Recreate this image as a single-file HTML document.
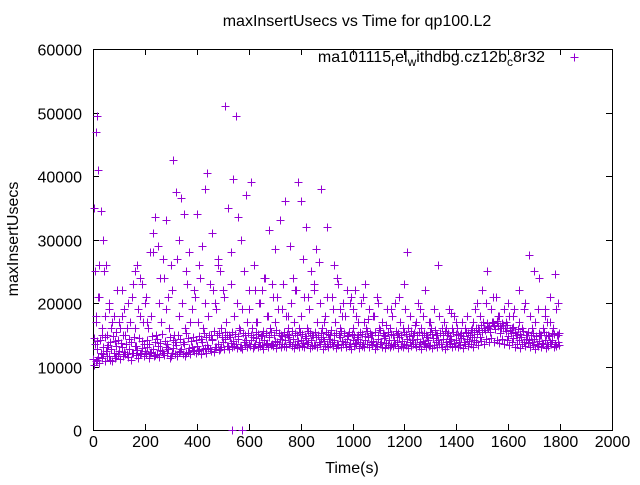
<!DOCTYPE html>
<html><head><meta charset="utf-8"><style>
html,body{margin:0;padding:0;background:#fff;}
svg text{font-family:"Liberation Sans",sans-serif;font-size:16px;fill:#000;}
</style></head><body>
<svg id="chart" width="640" height="480" xmlns="http://www.w3.org/2000/svg">
<text x="357" y="26" text-anchor="middle" font-size="15.5">maxInsertUsecs vs Time for qp100.L2</text>
<text x="352" y="473" text-anchor="middle">Time(s)</text>
<text transform="translate(18,239) rotate(-90)" text-anchor="middle">maxInsertUsecs</text>
<g id="axes"></g>
<g id="points"></g>
<g>
<text x="545" y="62" text-anchor="end" font-size="16">ma101115<tspan dy="4" font-size="12">r</tspan><tspan dy="-4">el</tspan><tspan dy="4" font-size="12">w</tspan><tspan dy="-4">ithdbg.cz12b</tspan><tspan dy="4" font-size="12">c</tspan><tspan dy="-4">8r32</tspan></text>
<path d="M570.5,57.5H578.5M574.5,53.5V61.5" stroke="#9400d3" stroke-width="1" shape-rendering="crispEdges"/>
</g>
</svg>
<script>
const xTicks=[0,200,400,600,800,1000,1200,1400,1600,1800,2000];
const yTicks=[0,10000,20000,30000,40000,50000,60000];
const bandA=[11.2,10.8,11.5,12.1,11.9,12.4,11.7,12.8,12.2,11.6,12.5,13.0,12.3,11.9,12.7,12.1,13.2,12.6,12.0,12.9,
12.4,13.1,12.2,12.8,11.8,13.3,12.6,12.1,13.0,12.7,11.6,12.9,13.4,12.3,12.8,13.6,12.2,12.9,13.1,12.5,
13.2,12.6,13.8,12.9,13.4,12.7,14.1,13.0,13.6,12.8,13.9,14.3,13.2,13.7,14.0,13.5,14.4,13.1,13.8,14.2,
13.6,14.1,13.3,14.5,13.9,13.4,14.2,13.7,14.6,13.5,14.0,13.8,14.3,13.6,14.1,14.7,13.9,14.4,13.5,14.0,
14.2,13.7,14.5,13.9,14.1,13.4,14.6,13.8,14.3,14.0,13.6,14.4,13.9,14.2,13.5,14.7,14.0,13.8,14.3,13.6,
14.1,13.7,14.4,13.9,13.5,14.2,14.6,13.8,14.0,13.6,14.3,13.9,14.5,13.7,14.1,13.4,14.2,13.8,14.6,14.0,
13.6,14.3,13.9,14.1,13.5,14.4,13.8,14.0,13.7,14.2,13.4,14.5,13.9,14.1,13.6,14.3,13.8,14.0,14.4,13.7,
14.1,13.8,14.5,13.9,14.3,14.0,14.7,14.2,15.1,14.6,15.4,15.8,16.2,15.5,16.8,15.9,16.4,15.2,16.0,15.6,
14.8,15.3,14.5,15.0,14.2,14.7,13.9,14.4,14.1,13.8,14.3,13.6,14.0,13.7,14.2,13.5,13.9,14.1,13.6,13.8];
const bandB=[10.2,11.0,10.5,11.3,10.9,11.6,11.1,10.8,11.4,11.9,11.2,11.7,12.0,11.5,11.1,12.2,11.8,11.4,12.1,11.6,
11.9,11.3,12.3,11.7,12.0,11.5,12.4,11.8,12.1,11.4,12.2,11.9,11.6,12.5,12.0,11.7,12.3,11.9,12.6,12.1,
12.4,12.0,12.7,12.2,12.9,12.5,12.3,13.1,12.6,13.0,12.8,13.2,12.7,13.0,13.3,12.9,13.1,12.8,13.4,13.0,
13.2,12.9,13.5,13.1,13.3,12.8,13.6,13.0,13.4,13.2,12.9,13.5,13.1,13.3,13.0,13.6,13.2,12.9,13.4,13.1,
13.3,13.0,13.5,12.9,13.2,13.4,13.1,13.6,12.8,13.3,13.0,13.5,13.2,12.9,13.4,13.1,13.6,13.0,13.3,12.8,
13.2,13.5,12.9,13.3,13.1,13.6,13.0,13.4,12.8,13.2,13.5,13.1,12.9,13.4,13.0,13.3,13.6,12.9,13.2,13.1,
13.4,12.9,13.2,13.6,13.0,13.3,12.8,13.5,13.1,13.2,12.9,13.4,13.0,13.6,13.1,12.8,13.3,13.5,13.0,13.2,
13.1,13.4,12.9,13.5,13.2,13.6,13.0,13.8,13.4,14.0,13.6,14.3,13.9,14.5,13.8,14.2,13.7,14.4,13.5,14.1,
13.4,13.8,13.1,13.6,12.9,13.5,13.2,13.7,13.0,13.4,12.8,13.3,13.1,13.6,12.9,13.2,13.5,13.0,13.3,13.4];
const bandC=[13.5,12.8,14.2,13.1,14.6,13.4,13.9,14.8,13.2,14.1,13.7,15.0,13.5,14.3,13.8,14.7,13.3,14.5,14.0,13.6,
14.2,13.5,14.8,13.9,14.4,13.7,15.1,14.0,13.6,14.6,14.1,13.8,14.9,14.3,13.9,15.2,14.5,14.0,14.7,14.2,
14.8,14.3,15.3,14.6,15.0,14.4,15.6,14.9,15.2,14.7,15.4,15.0,14.6,15.5,15.1,14.8,15.7,15.2,14.9,15.3,
15.0,14.7,15.5,15.1,14.8,15.6,15.2,14.9,15.4,15.0,15.7,15.3,14.8,15.5,15.1,14.9,15.6,15.2,15.0,15.4,
15.1,14.8,15.6,15.2,14.9,15.5,15.0,15.3,14.7,15.4,15.1,15.7,14.9,15.3,15.0,15.6,15.2,14.8,15.5,15.1,
15.0,14.7,15.5,15.1,14.8,15.6,15.2,14.9,15.4,15.0,15.7,15.3,14.8,15.5,15.1,14.9,15.6,15.2,15.0,15.4,
15.1,14.8,15.6,15.2,14.9,15.5,15.0,15.3,14.7,15.4,15.1,15.7,14.9,15.3,15.0,15.6,15.2,14.8,15.5,15.1,
15.0,15.3,14.8,15.5,15.2,15.8,15.4,16.1,15.7,16.5,16.0,16.8,16.3,17.0,16.6,17.2,16.4,16.9,16.1,16.6,
15.8,16.2,15.4,15.9,15.1,15.6,15.0,15.4,14.9,15.3,14.8,15.2,14.9,15.5,15.0,14.8,15.3,15.1,14.9,15.2];
const midV=[14.5,18,21,16,25,15,19,17,14,22,16,18,15,20,17,23,16,19,24,17,
21,16,18,28,15,20,17,24,19,16,22,15,27,18,20,16,23,17,19,21,
17,24,16,20,18,15,22,19,26,16,21,17,15,23,18,20,16,19,25,17,
19,16,22,17,20,15,24,18,16,21,17,19,15,23,18,16,20,17,22,16,
18,21,16,19,15,22,17,20,16,18,21,15,19,17,23,16,20,18,15,21,
16,18,15,20,17,16,19,15,18,21,16,17,15,19,16,18,20,15,17,16,
19,16,18,15,17,20,16,18,15,17,16,19,15,18,16,17,15,19,16,18,
16,15,17,16,18,15,17,19,16,18,17,20,16,19,17,21,18,16,19,17,
18,16,19,15,17,16,20,15,18,16,17,19,15,16,18,15,17,16,19,15];
const outT=[5,10,15,20,25,30,40,8,12,18,50,60,70,80,90,100,110,120,130,150,160,170,180,190,200,210,220,230,240,250,260,270,280,290,300,310,320,330,340,350,360,370,380,390,400,410,420,430,440,450,460,470,480,490,500,510,520,530,540,550,560,570,580,590,600,610,620,640,660,680,700,720,740,760,780,790,800,810,820,840,860,870,880,900,920,940,960,980,1000,1020,1040,1060,1100,1150,1200,1210,1240,1280,1300,1330,1360,1400,1440,1480,1500,1520,1540,1560,1600,1640,1680,1700,1720,1740,1760,1780,1790,1750,1660,1620,1580,1460,1380,1260,1180,1130,1080,1050,1010,990,950,930,890,850,830,770,750,730,710,690,670,650,630,15,35,45,55,535,575];
const outV=[35,47,49.5,41,26,34.5,30,25,17,21,26,20,16,18,15.5,17,22,19,16,21,25,26,18,23,20,17,28,31,33.5,29,24,27,33,21,26,42.5,37.5,30,36.5,34,25,28,19,22,34,26,29,38,40.5,23,31,20,27,25,22,51,35,28,39.5,49.5,33.5,30,25,37,22,39,26,20,24,31.5,28.5,33,36,29,22,39,36,27,32,25,28.5,26.5,38,32,21,24,18,22,19,17,21,17.5,20,19,23,28,16.5,22,17,26,16,17,18,20,22,25,21,18,20,22,27.5,25,24,19,21,24.5,20,17,19,18,16.5,16,18.5,19,21,16.5,18,23,22,20,19,26,17,23,21,24,18,19,21,23,18,22,17,14,15,18,13,0,0];
const L=93,R=612,T=49,B=430;
const sx=v=>L+(v-0)/(2000)*(R-L);
const sy=v=>B-(v/60000)*(B-T);
const NS='http://www.w3.org/2000/svg';
const ax=document.getElementById('axes');
function mk(tag,attrs,parent){const e=document.createElementNS(NS,tag);for(const k in attrs)e.setAttribute(k,attrs[k]);parent.appendChild(e);return e;}
const frame=mk('rect',{x:L+0.5,y:T+0.5,width:R-L,height:B-T,fill:'none',stroke:'#000','stroke-width':1,'shape-rendering':'crispEdges'},ax);


xTicks.forEach(t=>{const x=Math.round(sx(t))+0.5;
 const tk=mk('path',{d:`M${x},${B}v-6M${x},${T}v6`,stroke:'#000','stroke-width':1,'shape-rendering':'crispEdges'},ax);
 
 
 const tx=mk('text',{x:x,y:B+17,'text-anchor':'middle'},ax);tx.textContent=t;
 
 });
yTicks.forEach(t=>{const y=Math.round(sy(t))+0.5;
 const tk=mk('path',{d:`M${L},${y}h6M${R},${y}h-6`,stroke:'#000','stroke-width':1,'shape-rendering':'crispEdges'},ax);
 
 
 const tx=mk('text',{x:L-11,y:y+6,'text-anchor':'end'},ax);tx.textContent=t;
 
 });
const pg=document.getElementById('points');
let d='';
function plus(t,v){const x=Math.round(sx(t))+0.5,y=Math.round(sy(v*1000))+0.5;d+=`M${x-4},${y}h8M${x},${y-4}v8`;}
bandA.forEach((v,i)=>plus(i*10,v));
bandB.forEach((v,i)=>plus(i*10+5,v));
bandC.forEach((v,i)=>plus(i*10+7,v));
midV.forEach((v,i)=>plus(i*10+3,v));
outT.forEach((t,i)=>plus(t,outV[i]));
const p=mk('path',{d:d,stroke:'#9400d3','stroke-width':1,fill:'none','shape-rendering':'crispEdges'},pg);


</script>
</body></html>
